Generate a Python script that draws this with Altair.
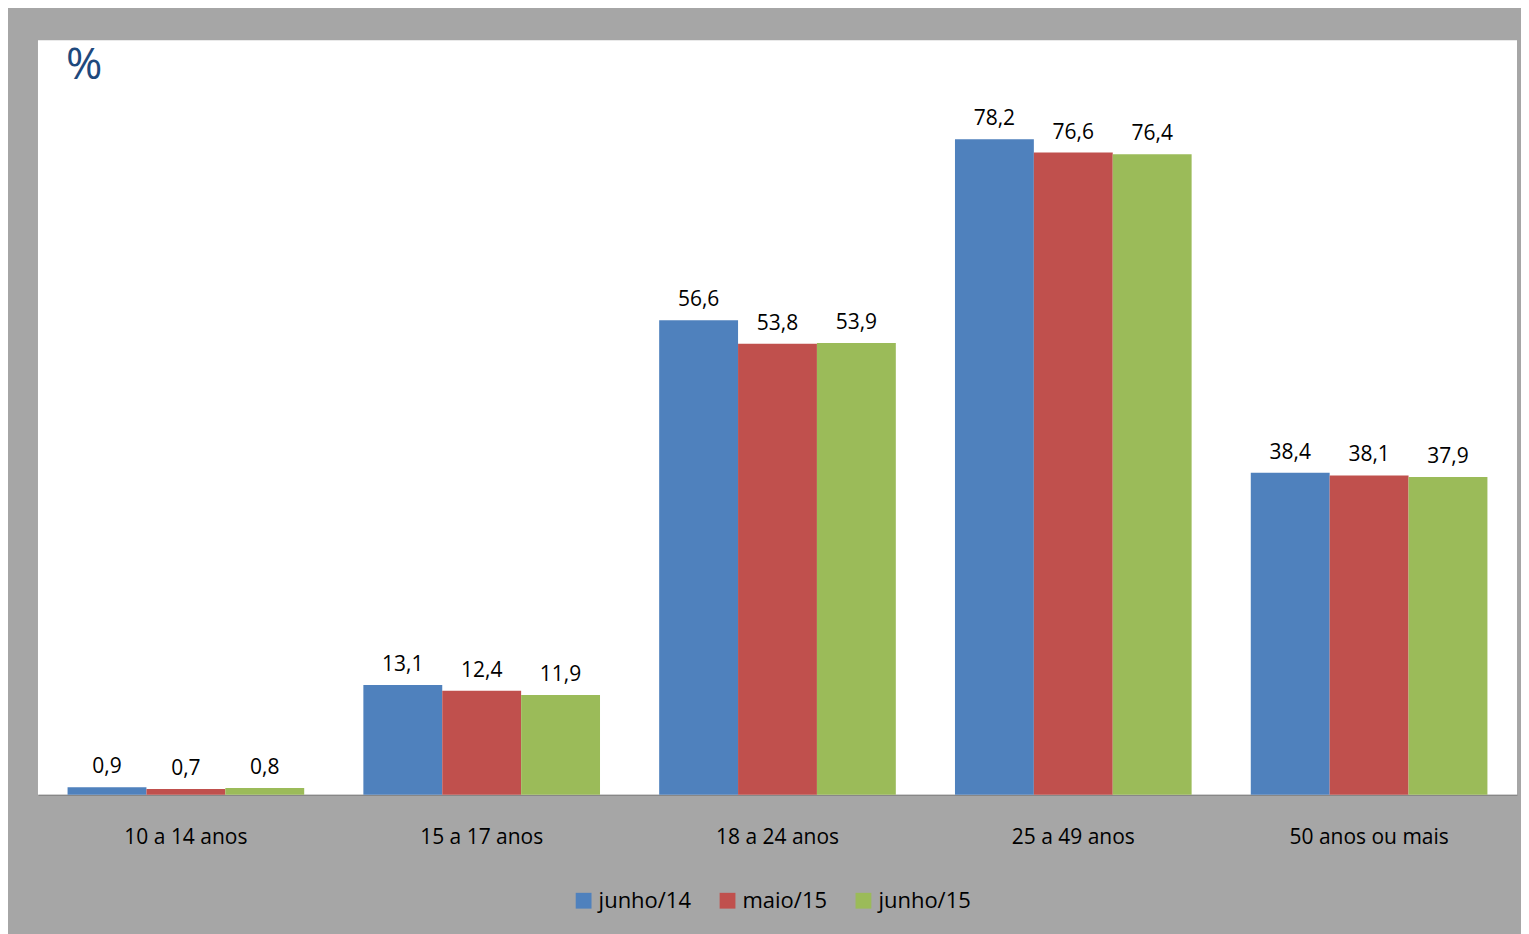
import altair as alt
import pandas as pd

groups = ["10 a 14 anos", "15 a 17 anos", "18 a 24 anos", "25 a 49 anos", "50 anos ou mais"]
series = ["junho/14", "maio/15", "junho/15"]
jun14 = [0.9, 13.1, 56.6, 78.2, 38.4]
mai15 = [0.7, 12.4, 53.8, 76.6, 38.1]
jun15 = [0.8, 11.9, 53.9, 76.4, 37.9]
COLORS = ["#4F81BD", "#C0504D", "#9BBB59"]

rows = []
for s, vals in zip(series, [jun14, mai15, jun15]):
    for g, v in zip(groups, vals):
        rows.append({"grupo": g, "serie": s, "valor": v, "rotulo": f"{v:.1f}".replace(".", ",")})
df = pd.DataFrame(rows)

FONT = "Open Sans"

base = alt.Chart(df).encode(
    x=alt.X("grupo:N", sort=groups, title=None,
            scale=alt.Scale(paddingInner=0.2, paddingOuter=0.1),
            axis=alt.Axis(labelAngle=0, ticks=False, labelPadding=32, labelFontSize=21,
                          labelFont=FONT, labelColor="black", domainColor="#808080")),
    xOffset=alt.XOffset("serie:N", sort=series),
    y=alt.Y("valor:Q", scale=alt.Scale(domain=[0, 90], nice=False), axis=None),
)

bars = base.mark_bar().encode(
    color=alt.Color("serie:N", sort=series, scale=alt.Scale(domain=series, range=COLORS),
                    legend=alt.Legend(title=None, orient="none", legendX=535, legendY=850,
                                      direction="horizontal", symbolType="square",
                                      symbolSize=250, symbolStrokeWidth=0, labelFontSize=22,
                                      labelFont=FONT, labelColor="black",
                                      columnPadding=25)),
)
labels = base.mark_text(dy=-20, fontSize=21, font=FONT, color="black").encode(text="rotulo:N")

pct = alt.Chart(pd.DataFrame({"t": ["%"]})).mark_text(
    fontSize=44, font=FONT, color="#1F497D", align="left", baseline="middle"
).encode(x=alt.value(28), y=alt.value(26), text="t:N")

chart = alt.layer(bars, labels, pct).properties(
    width=1480, height=755, background="#A6A6A6",
    padding={"left": 30, "top": 32, "right": 4, "bottom": 30},
).configure_view(fill="white", stroke=None)

chart.save("out.html", embed_options={"renderer": "svg", "actions": False})
